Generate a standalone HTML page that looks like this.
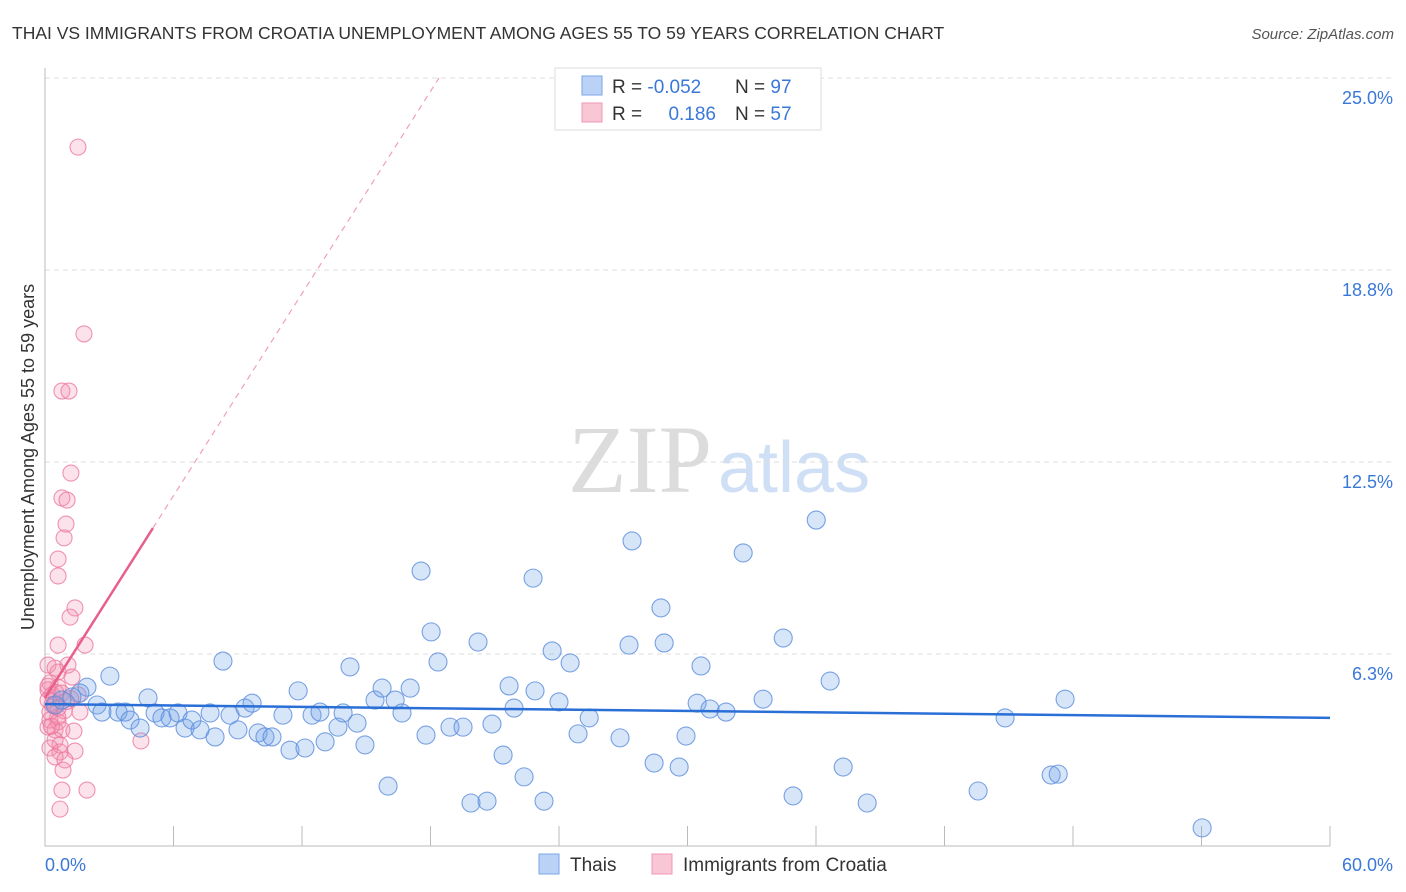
<!DOCTYPE html>
<html><head><meta charset="utf-8"><style>
body{margin:0;background:#fff;font-family:"Liberation Sans",sans-serif;}
svg{display:block}
</style></head><body>
<svg id="chart" width="1406" height="892">
<text x="12" y="39" font-size="17.5" fill="#333">THAI VS IMMIGRANTS FROM CROATIA UNEMPLOYMENT AMONG AGES 55 TO 59 YEARS CORRELATION CHART</text>
<text x="1394" y="39" font-size="15" font-style="italic" fill="#555" text-anchor="end">Source: ZipAtlas.com</text>
<text x="712" y="492" font-size="96" font-family="Liberation Serif,serif" fill="#dcdcdc" text-anchor="end">ZIP</text>
<text x="718" y="492" font-size="72" fill="#cfdff5">atlas</text>
<text transform="translate(34,457) rotate(-90)" font-size="18" fill="#333" text-anchor="middle">Unemployment Among Ages 55 to 59 years</text>
<g id="grid"></g><g id="marks"></g>
<g>
<rect x="555" y="68" width="266" height="62" fill="#fff" stroke="#ddd"/>
<rect x="582" y="76" width="20" height="19" fill="#b9d2f5" stroke="#7aa6e6"/>
<rect x="582" y="103" width="20" height="19" fill="#f9c6d6" stroke="#f095b5"/>
<text x="612" y="93" font-size="19" fill="#333">R = <tspan fill="#3a78d8">-0.052</tspan></text>
<text x="735" y="93" font-size="19" fill="#333">N = <tspan fill="#3a78d8">97</tspan></text>
<text x="612" y="120" font-size="19" fill="#333">R = </text>
<text x="716" y="120" font-size="19" fill="#3a78d8" text-anchor="end">0.186</text>
<text x="735" y="120" font-size="19" fill="#333">N = <tspan fill="#3a78d8">57</tspan></text>
</g>
<g>
<rect x="539" y="854" width="20" height="20" fill="#b9d2f5" stroke="#7aa6e6"/>
<text x="570" y="871" font-size="19" fill="#333">Thais</text>
<rect x="652" y="854" width="20" height="20" fill="#f9c6d6" stroke="#f095b5"/>
<text x="683" y="871" font-size="19" fill="#333">Immigrants from Croatia</text>
</g>
</svg>
<script>
const yTicks=[6.25,12.5,18.75,25];
const yTickLabels=["6.3%","12.5%","18.8%","25.0%"];
const blueX=[3.03,1.96,1.63,1.26,0.79,0.47,2.43,2.66,3.41,3.74,4.81,3.97,4.44,5.14,5.46,5.84,6.21,6.54,6.86,7.24,7.71,7.94,8.31,8.64,9.01,9.34,9.67,9.95,10.27,10.60,11.11,11.44,11.82,12.14,12.47,12.84,13.08,13.68,13.92,14.24,14.57,14.94,15.41,15.74,16.02,16.35,16.67,17.05,17.56,17.79,18.03,18.35,18.91,19.52,19.89,20.22,20.64,20.87,21.39,21.67,21.90,22.37,22.79,22.88,23.30,23.68,24.00,24.52,24.89,25.41,26.85,27.27,27.41,28.44,28.76,28.91,29.61,29.93,30.45,30.63,31.05,31.80,32.60,33.53,34.47,34.93,36.01,36.66,37.27,38.39,43.57,44.83,46.98,47.31,47.63,54.03];
const blueY=[5.53,5.17,4.98,4.85,4.75,4.59,4.59,4.36,4.36,4.36,4.82,4.10,3.84,4.33,4.17,4.17,4.33,3.84,4.10,3.78,4.33,3.55,6.02,4.26,3.78,4.49,4.65,3.68,3.55,3.55,4.26,3.12,5.05,3.19,4.26,4.36,3.39,3.87,4.33,5.83,4.00,3.29,4.75,5.14,1.95,4.75,4.33,5.14,8.95,3.61,6.97,5.99,3.87,3.87,1.40,6.64,1.46,3.97,2.96,5.21,4.49,2.25,8.72,5.05,1.46,6.35,4.69,5.96,3.65,4.17,3.52,6.54,9.93,2.70,7.75,6.61,2.57,3.58,4.65,5.86,4.46,4.36,9.54,4.78,6.77,1.63,10.61,5.37,2.57,1.40,1.79,4.17,2.31,2.34,4.78,0.59];
const pinkX=[1.54,1.82,0.79,1.12,1.21,0.79,1.03,0.98,0.89,0.61,0.61,1.40,1.17,0.61,1.87,0.14,0.47,1.07,0.61,1.26,0.23,0.61,0.14,0.33,0.79,1.54,0.14,0.47,0.23,0.61,1.63,0.23,0.61,0.14,0.47,0.79,1.35,0.47,0.70,0.23,1.40,0.70,0.47,0.93,0.84,0.79,1.96,0.70,4.48,0.14,0.33,0.5,1.2,0.9,0.3,0.6,1.0];
const pinkY=[22.75,16.67,14.81,14.81,12.14,11.33,11.26,10.48,10.03,9.34,8.79,7.75,7.45,6.54,6.54,5.89,5.79,5.89,5.66,5.50,5.31,5.17,5.08,4.92,4.98,4.92,4.75,4.59,4.36,4.49,4.36,4.10,4.04,3.87,3.78,3.78,3.74,3.45,3.29,3.19,3.09,3.06,2.90,2.80,2.47,1.82,1.82,1.20,3.42,5.2,4.6,5.0,4.8,4.4,3.9,4.2,4.7];
const blueTrend=[4.62,4.17];
const pinkTrend=[4.82,1.097];
const X0=45,X1=1330,Y0=846,PXPCT=(X1-X0)/60,PYPCT=(846-78)/25;
const sx=v=>X0+v*PXPCT, sy=v=>Y0-v*PYPCT;
const NS="http://www.w3.org/2000/svg";
const grid=document.getElementById('grid'),marks=document.getElementById('marks');
function mk(tag,attrs,parent){const e=document.createElementNS(NS,tag);for(const k in attrs)e.setAttribute(k,attrs[k]);parent.appendChild(e);return e;}
yTicks.forEach((t,i)=>{
 const l=mk('line',{x1:X0,x2:1392,y1:sy(t),y2:sy(t),stroke:'#ddd','stroke-dasharray':'5,4'},grid);
 
 
 const tx=mk('text',{x:1393,y:sy(t)+26,'font-size':18,fill:'#3a78d8','text-anchor':'end'},grid);
 tx.textContent=yTickLabels[i];
 
 
});
const ax=mk('path',{d:`M${X0} 68V${Y0}H${X1}`,stroke:'#bbb',fill:'none'},grid);


for(let i=0;i<=10;i++){const t=mk('line',{x1:sx(i*6),x2:sx(i*6),y1:826,y2:Y0,stroke:'#bbb'},grid);
 
 }
const xl0=mk('text',{x:45,y:871,'font-size':18,fill:'#3a78d8'},grid);xl0.textContent='0.0%';


const xl1=mk('text',{x:1393,y:871,'font-size':18,fill:'#3a78d8','text-anchor':'end'},grid);xl1.textContent='60.0%';


pinkX.forEach((x,i)=>{const c=mk('circle',{cx:sx(x),cy:sy(pinkY[i]),r:8,fill:'rgba(242,140,170,0.25)',stroke:'rgba(236,120,160,0.8)','stroke-width':1.1},marks);
 
 });
blueX.forEach((x,i)=>{const c=mk('circle',{cx:sx(x),cy:sy(blueY[i]),r:9,fill:'rgba(110,160,230,0.28)',stroke:'rgba(90,140,220,0.8)','stroke-width':1.1},marks);
 
 });
const bt=mk('line',{x1:sx(0),y1:sy(blueTrend[0]),x2:sx(60),y2:sy(blueTrend[1]),stroke:'#2a6fd6','stroke-width':2.5},marks);


const xe=(25-pinkTrend[0])/pinkTrend[1];
const pd=mk('line',{x1:sx(5.04),y1:sy(pinkTrend[0]+pinkTrend[1]*5.04),x2:sx(xe),y2:sy(25),stroke:'#f0a0b8','stroke-width':1.2,'stroke-dasharray':'6,5'},marks);


const ps=mk('line',{x1:sx(0),y1:sy(pinkTrend[0]),x2:sx(5.04),y2:sy(pinkTrend[0]+pinkTrend[1]*5.04),stroke:'#e8608a','stroke-width':2.5},marks);


</script>
</body></html>
